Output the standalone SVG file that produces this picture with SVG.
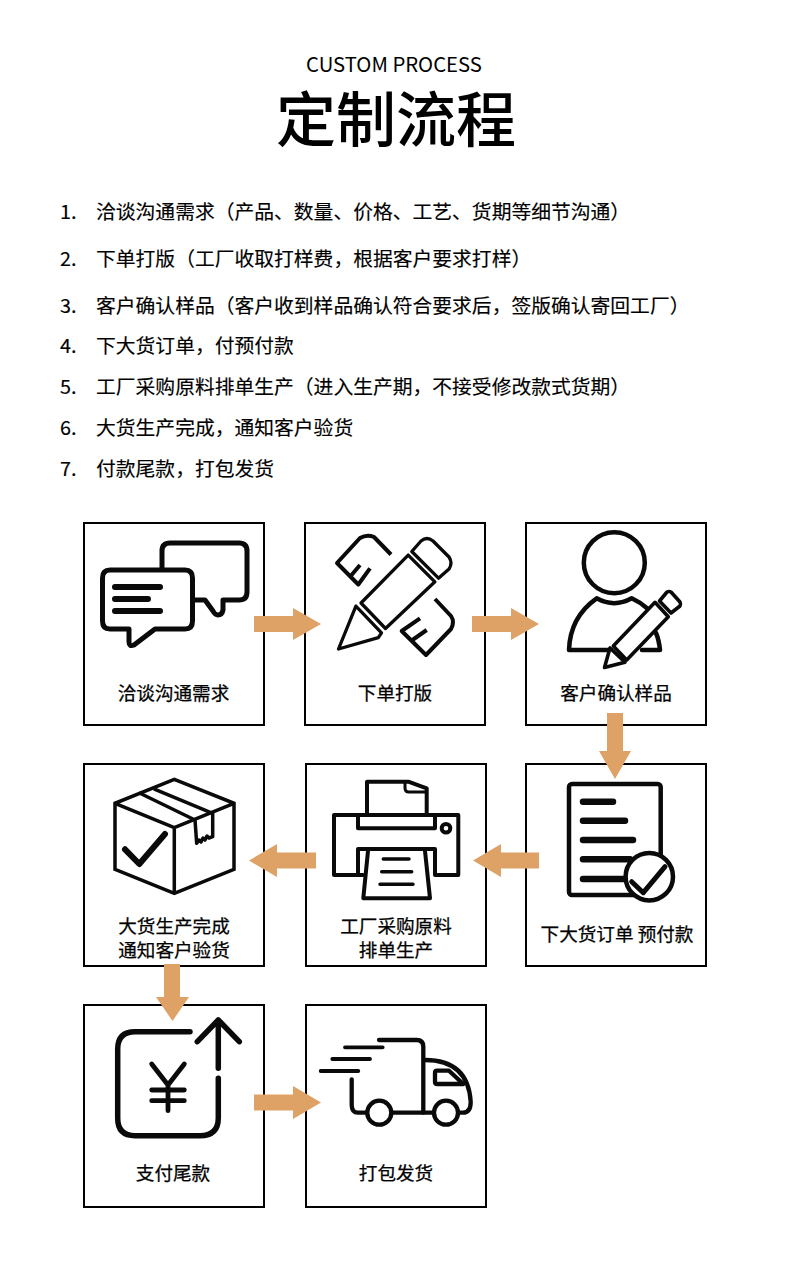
<svg xmlns="http://www.w3.org/2000/svg" width="790" height="1283" viewBox="0 0 790 1283">
<style>
text{font-family:"Noto Sans CJK SC","Noto Sans",sans-serif;fill:#000}
.title{font-size:60px;font-weight:500;text-anchor:middle}
.sub{font-size:20.300px;font-weight:400;text-anchor:middle}
.li{font-size:19.800px;font-weight:400;stroke:#000;stroke-width:.15px}
.lb{font-size:18.600px;font-weight:400;text-anchor:middle;stroke:#000;stroke-width:.25px}
.box{fill:#fff;stroke:#000;stroke-width:2}
.i{fill:none;stroke:#0a0a0a;stroke-linecap:round;stroke-linejoin:round}
.a{fill:#dfa266}
</style>
<rect width="790" height="1283" fill="#fff"/>
<g id="header">
<text class="sub" x="394" y="72">CUSTOM PROCESS</text>
<text class="title" x="396" y="142">定制流程</text>
</g>
<g id="steps-list">
<text class="li" x="60" y="219">1.</text><text class="li" x="96" y="219">洽谈沟通需求（产品、数量、价格、工艺、货期等细节沟通）</text>
<text class="li" x="60" y="266">2.</text><text class="li" x="96" y="266">下单打版（工厂收取打样费，根据客户要求打样）</text>
<text class="li" x="60" y="313">3.</text><text class="li" x="96" y="313">客户确认样品（客户收到样品确认符合要求后，签版确认寄回工厂）</text>
<text class="li" x="60" y="353">4.</text><text class="li" x="96" y="353">下大货订单，付预付款</text>
<text class="li" x="60" y="394">5.</text><text class="li" x="96" y="394">工厂采购原料排单生产（进入生产期，不接受修改款式货期）</text>
<text class="li" x="60" y="435">6.</text><text class="li" x="96" y="435">大货生产完成，通知客户验货</text>
<text class="li" x="60" y="476">7.</text><text class="li" x="96" y="476">付款尾款，打包发货</text>
</g>
<g id="node-1">
<rect class="box" x="84" y="523" width="180" height="202"/>
<g class="i" stroke-width="5">
<path d="M162 568V551Q162 543 170 543H239Q247 543 247 551V592Q247 600 239 600H223V610Q222 615 218 615Q215 615 213 611L205 600H193"/>
<path d="M110 570H185Q192.500 570 192.500 578V621Q192.500 629 185 629H155L134 645Q129 647 129 642V629H110Q102.500 629 102.500 621V578Q102.500 570 110 570Z"/>
<path stroke-width="6" d="M115 587H160M115 599H148M115 611H160"/>
</g>
<text class="lb" x="173.500" y="700">洽谈沟通需求</text>
</g>
<g id="node-2">
<rect class="box" x="305" y="523" width="180" height="202"/>
<g class="i" stroke-width="3.300" stroke-linejoin="miter">
<path d="M408.200 555.100L434.900 581.800L385.500 628.500L361 603Z"/>
<path d="M411.800 551.500L421 541Q427 536 433 541L449 557Q453 563 449 569L438.500 578.200Z"/>
<path d="M355.900 606.100L338.500 649L378.300 637.700L381.500 632.800Z"/>
<path stroke-width="4" stroke-linecap="butt" d="M391 554.500L374 537Q367 534 360 538L337 563L358.300 584.500L370 568.300M350.700 576L360 565"/>
<path stroke-width="4" stroke-linecap="butt" d="M435 599L451 616Q455 622 451 629L426 655L401.700 631L420 618.300M411.700 640.500L426.700 630"/>
</g>
<text class="lb" x="395" y="700">下单打版</text>
</g>
<g id="node-3">
<rect class="box" x="526" y="523" width="180" height="202"/>
<g class="i" stroke-width="4.500">
<circle cx="614.300" cy="562.700" r="30.500"/>
<path d="M611 650H569Q570 617 596.700 598.300Q614.300 608 631.700 598.300Q640 602 648 609M642 650H660Q659 640 656 633"/>
</g>
<g class="i" stroke-width="3.600">
<path fill="#fff" d="M655 602.300L668.300 616.700L626.700 660L613.300 646Z"/>
<path fill="#fff" d="M659.500 601L667 592Q669 591 671 592L680 602Q681 604 680 606L671 613Z"/>
<path fill="#fff" d="M610 648L604.500 667.500L625 662.300Z"/>
</g>
<text class="lb" x="616" y="700">客户确认样品</text>
</g>
<g id="node-4">
<rect class="box" x="526" y="764" width="180" height="202"/>
<g class="i">
<rect x="569" y="784" width="91.700" height="111" rx="3" stroke-width="4.500"/>
<path stroke-width="6.500" d="M583 801.700H613M583 820.700H625M583 840H633M583 859.300H630M583 879H626"/>
<circle cx="649.300" cy="876.700" r="23.700" fill="#fff" stroke-width="4.500"/>
<path stroke-width="5" d="M631.700 881.700L643.300 892.700L665 866.700"/>
</g>
<text class="lb" x="617" y="941">下大货订单 预付款</text>
</g>
<g id="node-5">
<rect class="box" x="306" y="764" width="180" height="202"/>
<g class="i" stroke-width="4">
<path d="M367 814V781.700H408.300L426.700 788.300V814"/>
<path stroke-width="3" d="M405 782V788Q405 792 409 792H426"/>
<path d="M358 815H334V875H363M435 875H458.300V815H358M358 815V828.300H435V815M358 875V849H435V875"/>
<path d="M368 851L363.300 898.300H430L425 851"/>
<path stroke-width="3.500" d="M383.300 859H409M381.700 871.700H411.700M380 884.300H413"/>
<circle cx="446" cy="828.300" r="4.300"/>
</g>
<text class="lb" x="396" y="933">工厂采购原料</text>
<text class="lb" x="396" y="957">排单生产</text>
</g>
<g id="node-6">
<rect class="box" x="84" y="764" width="180" height="202"/>
<g class="i" stroke-width="3.500">
<path stroke-linejoin="miter" d="M174.300 779.300L234 803.300V869.300L174.300 893.300L115 869.300V803.300ZM115 803.300L174.300 827.700L234 803.300M174.300 827.700V893.300"/>
<path d="M140 793.300L195 820M155 789.300L212.700 813.300M195 820L196.700 843.300L199 840L201 842L203 838L205 840L207 836L209 838L212.700 836.700V813.300"/>
<path stroke-width="6" d="M125 849.300L139.300 864L165 834"/>
</g>
<text class="lb" x="174" y="933">大货生产完成</text>
<text class="lb" x="174" y="957">通知客户验货</text>
</g>
<g id="node-7">
<rect class="box" x="84" y="1005" width="180" height="202"/>
<g class="i" stroke-width="5.500">
<path d="M190 1031.700H135Q117.700 1031.700 117.700 1049V1118.300Q117.700 1135.700 135 1135.700H200Q218.300 1135.700 218.300 1118V1078.300"/>
<path d="M218.300 1068.300V1020M197.300 1041.700L218.300 1020L239.300 1041.700"/>
<path stroke-width="4.800" d="M151.700 1064L168 1085L184.300 1064M168 1085V1110.700M151.700 1090H184.300M151.700 1100.700H184.300"/>
</g>
<text class="lb" x="173" y="1180">支付尾款</text>
</g>
<g id="node-8">
<rect class="box" x="306" y="1005" width="180" height="202"/>
<g class="i" stroke-width="4.300">
<path d="M379 1040H416.700Q423.300 1040 423.300 1046.700V1112.700"/>
<path stroke-width="3.800" d="M345 1047.300H382.700M332.300 1059H370M320.700 1071H358.300"/>
<path d="M351.700 1079.300V1105Q351.700 1112.700 358 1112.700H366.700M391.700 1112.700H433.300M458.300 1112.700H463Q470.700 1112.700 470.700 1101.700Q468 1060 425 1060"/>
<circle cx="379.300" cy="1112.700" r="12"/>
<circle cx="446" cy="1112.700" r="12"/>
<path d="M437 1070.700H449L463.300 1084H437Q435 1084 435 1082V1073Q435 1070.700 437 1070.700Z"/>
</g>
<text class="lb" x="396" y="1180">打包发货</text>
</g>
<g id="connectors">
<polygon class="a" points="254,616 293,616 293,608 321,624 293,640 293,632 254,632"/>
<polygon class="a" points="472,616 511,616 511,608 539,624 511,640 511,632 472,632"/>
<polygon class="a" points="607,713 623,713 623,751 631,751 615,779 599,751 607,751"/>
<polygon class="a" points="539,852.500 501,852.500 501,844 473,860.500 501,877 501,868.500 539,868.500"/>
<polygon class="a" points="316,852.500 277,852.500 277,844 249,860.500 277,877 277,868.500 316,868.500"/>
<polygon class="a" points="164,964 180,964 180,997 189,997 172.500,1021 156,997 164,997"/>
<polygon class="a" points="254,1094.500 293,1094.500 293,1086 321,1102.500 293,1119 293,1110.500 254,1110.500"/>
</g>
</svg>
